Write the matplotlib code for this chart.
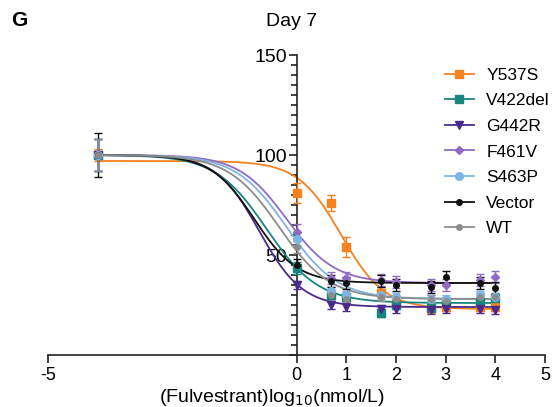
"""Day 7 fulvestrant dose-response chart."""

import matplotlib

matplotlib.use('Agg')
import matplotlib.pyplot as plt
import numpy as np
from matplotlib.ticker import FixedLocator, MultipleLocator

plt.rcParams['font.family'] = ['Liberation Sans', 'DejaVu Sans']
plt.rcParams['axes.unicode_minus'] = False

# log10 dose (nmol/L); -4 is the vehicle control
doses = [-4, 0, 0.7, 1, 1.7, 2, 2.7, 3, 3.7, 4]

labels = ['Y537S', 'V422del', 'G442R', 'F461V', 'S463P', 'Vector', 'WT']

y537s = [100, 81, 76, 54, 31, 26, 23, 24, 24, 24]
v422del = [100, 43.5, 30, 29, 21, 25, 23.5, 26.5, 26.5, 28.5]
g442r = [100, 35, 25, 24, 23, 23, 22.5, 23, 23, 22.5]
f461v = [100, 61.5, 38.5, 38.5, 37.5, 36.5, 35, 35, 37.5, 39]
s463p = [100, 58, 32, 30, 30, 29, 28, 28, 30, 29]
vector = [100, 45, 37, 36, 37, 35, 34, 39, 36, 33.5]
wt = [100, 54, 30, 28, 29, 28, 28, 27, 29, 29]

y537s_err = [3, 5, 4, 5, 3, 2, 2, 2, 2, 2]
v422del_err = [8, 3, 2, 2, 2, 2, 2, 2, 2, 2]
g442r_err = [8, 2, 2, 2, 2, 2, 2, 2, 2, 2]
f461v_err = [8, 4, 3, 3, 3, 3, 3, 3, 3, 3]
s463p_err = [8, 3, 2, 2, 2, 2, 2, 2, 2, 2]
vector_err = [11, 3, 3, 3, 3, 3, 3, 3, 3, 3]
wt_err = [8, 3, 2, 2, 2, 2, 2, 2, 2, 2]

# 4-parameter logistic fit parameters: top, bottom, logIC50, hill
tops = [97, 100, 100, 100, 100, 100, 100]
bottoms = [23, 26, 24, 36, 28, 36, 28]
log_ic50 = [0.9, -0.6, -0.75, -0.2, -0.2, -0.85, -0.35]
hills = [1.0, 0.84, 1.0, 0.9, 0.85, 1.0, 0.85]

colors = ['#F5821F', '#17857E', '#4B2A8C', '#8F6CC2', '#7FB4E6', '#111111', '#8C8C8C']
markers = ['s', 's', 'v', 'D', 'o', 'o', 'o']
msizes = [5.5, 5.5, 6, 4.5, 5.5, 4, 4]

series = [y537s, v422del, g442r, f461v, s463p, vector, wt]
errors = [y537s_err, v422del_err, g442r_err, f461v_err, s463p_err, vector_err, wt_err]

fig = plt.figure(figsize=(5.56, 4.07), dpi=100)
ax = fig.add_axes([48 / 556, 52 / 407, 497 / 556, 300 / 407])

xs = np.linspace(-4, 4, 400)
for i in range(len(labels)):
    fit = bottoms[i] + (tops[i] - bottoms[i]) / (1 + 10 ** ((xs - log_ic50[i]) * hills[i]))
    ax.plot(xs, fit, color=colors[i], linewidth=1.3, zorder=2)

for i in range(len(labels)):
    ax.errorbar(doses, series[i], yerr=errors[i], fmt=markers[i], color=colors[i],
                markersize=msizes[i], capsize=3, elinewidth=1, capthick=1, zorder=3)
    ax.plot([], [], marker=markers[i], color=colors[i], markersize=msizes[i],
            linewidth=1.3, label=labels[i])

ax.set_xlim(-5, 5)
ax.set_ylim(0, 150)
ax.spines['left'].set_position(('data', 0))
ax.spines['top'].set_visible(False)
ax.spines['right'].set_visible(False)
for s in ['left', 'bottom']:
    ax.spines[s].set_linewidth(1.2)
    ax.spines[s].set_color('#222222')

ax.xaxis.set_major_locator(FixedLocator([-5, 0, 1, 2, 3, 4, 5]))
ax.yaxis.set_major_locator(FixedLocator([0, 50, 100, 150]))
ax.yaxis.set_minor_locator(MultipleLocator(5))
ax.set_yticklabels(['', '50', '100', '150'])
ax.tick_params(axis='both', which='major', length=6, width=1.2, color='#222222')
ax.tick_params(axis='x', labelsize=13, pad=3)
ax.tick_params(axis='y', labelsize=14, pad=1)
ax.tick_params(axis='y', which='minor', length=4, width=1.2, color='#222222')

ax.set_xlabel('(Fulvestrant)log$_{10}$(nmol/L)', fontsize=14, labelpad=0)
ax.xaxis.set_label_coords(0.45, -0.105)
ax.set_title('Day 7', fontsize=14, pad=21, x=0.49)
fig.text(0.02, 0.95, 'G', fontsize=15, fontweight='bold', va='center')

ax.legend(loc='upper left', bbox_to_anchor=(436 / 556, 1 - 59 / 407),
          bbox_transform=fig.transFigure, frameon=False, fontsize=12.5,
          borderpad=0, labelspacing=0.6, handlelength=1.7, handletextpad=0.7)

plt.savefig('out.png', dpi=100)
